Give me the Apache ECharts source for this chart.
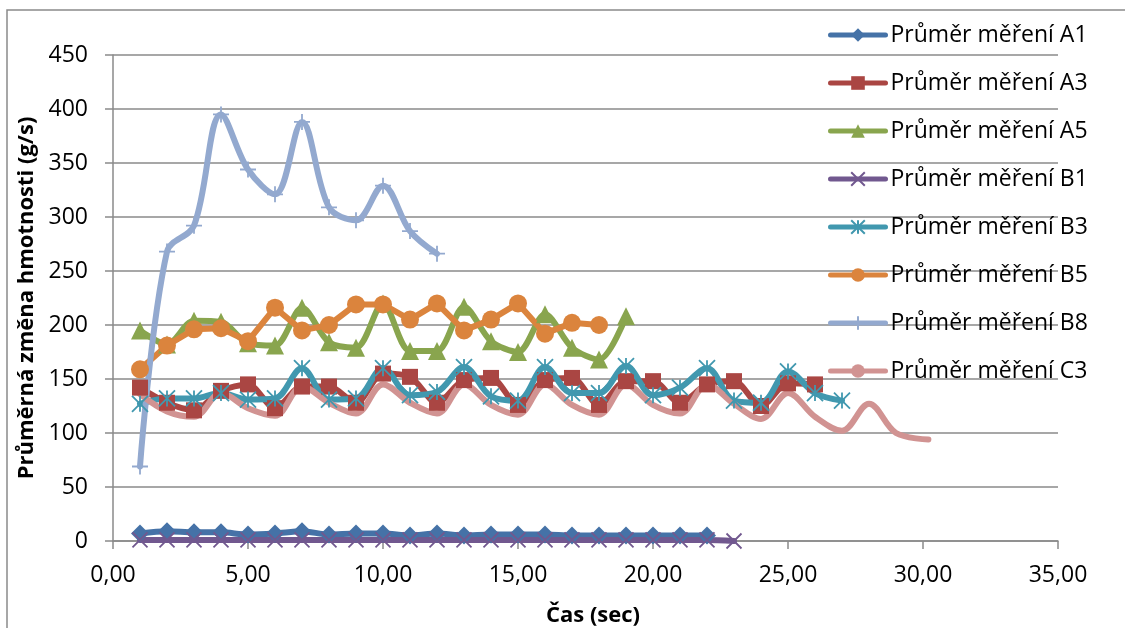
<!DOCTYPE html>
<html>
<head>
<meta charset="UTF-8">
<title>Průměrná změna hmotnosti</title>
<script type="text/javascript" src="https://cdn.jsdelivr.net/npm/echarts@6/dist/echarts.min.js"></script>
<style>
html,body{margin:0;padding:0;background:#fff;}
</style>
</head>
<body>
<div id="main" style="width:1125px;height:628px;"></div>

<script type="text/javascript">
// data (time in s, value in g/s)
var xTicks = [0, 5, 10, 15, 20, 25, 30, 35];
var yTicks = [0, 50, 100, 150, 200, 250, 300, 350, 400, 450];

var tA1 = [1,2,3,4,5,6,7,8,9,10,11,12,13,14,15,16,17,18,19,20,21,22];
var vA1 = [7,9,8,8,6,7,9,6,7,7,5,7,5,6,6,6,5,5,5,5,5,5];

var tA3 = [1,2,3,4,5,6,7,8,9,10,11,12,13,14,15,16,17,18,19,20,21,22,23,24,25,26];
var vA3 = [142,128,121,139,145,123,143,143,128,155,152,128,149,151,126,149,151,126,148,148,128,145,148,125,146,145];

var tA5 = [1,2,3,4,5,6,7,8,9,10,11,12,13,14,15,16,17,18,19];
var vA5 = [195,182,204,203,183,181,216,184,179,220,176,176,217,185,175,210,179,168,208];

var tB1 = [1,2,3,4,5,6,7,8,9,10,11,12,13,14,15,16,17,18,19,20,21,22,23];
var vB1 = [1,1,1,1,1,1,1,1,1,1,1,1,1,1,1,1,1,1,1,1,1,1,0];

var tB3 = [1,2,3,4,5,6,7,8,9,10,11,12,13,14,15,16,17,18,19,20,21,22,23,24,25,26,27];
var vB3 = [127,132,132,137,131,132,160,131,132,160,135,138,161,134,130,161,137,137,162,135,142,160,130,128,157,137,130];

var tB5 = [1,2,3,4,5,6,7,8,9,10,11,12,13,14,15,16,17,18];
var vB5 = [159,181,196,197,185,216,195,200,219,219,205,220,195,205,220,192,202,200];

var tB8 = [1,2,3,4,5,6,7,8,9,10,11,12];
var vB8 = [69,268,292,395,344,321,388,309,297,329,287,266];

var tC3 = [1,2,3,4,5,6,7,8,9,10,11,12,13,14,15,16,17,18,19,20,21,22,23,24,25,26,27,28,29,30.2];
var vC3 = [136,120,115,137,123,116,143,128,118,145,128,118,145,126,117,145,126,117,145,126,118,145,127,113,137,115,102,127,100,94];

var FONT = 'Open Sans';
var GRID = '#8a8a8a';

// marker shapes that Excel has but ECharts does not
var symX = 'path://M0,0 L10,10 M10,0 L0,10';
var symStar = 'path://M5,0 L5,10 M0,0 L10,10 M10,0 L0,10';
var symPlus = 'path://M5,0 L5,10 M0,5 L10,5';

function pairs(t, v) {
    var out = [];
    for (var i = 0; i < t.length; i++) {
        out.push([t[i], v[i]]);
    }
    return out;
}

function mk(name, t, v, color, symbol, size, smooth, stroke) {
    return {
        name: name,
        type: 'line',
        data: pairs(t, v),
        smooth: smooth,
        symbol: symbol,
        symbolSize: size,
        showAllSymbol: true,
        lineStyle: { color: color, width: 6, cap: 'round', join: 'round' },
        itemStyle: {
            color: color,
            borderColor: color,
            borderWidth: stroke ? 1.8 : 0
        },
        emphasis: { disabled: true }
    };
}

var mychart = echarts.init(document.getElementById('main'));

var option = {
    animation: false,
    backgroundColor: '#fff',
    textStyle: { fontFamily: FONT },
    graphic: [{
        type: 'rect',
        shape: { x: 7, y: 10, width: 1200, height: 700 },
        style: { fill: 'none', stroke: '#8a8a8a', lineWidth: 1.5 },
        silent: true
    }],
    grid: { left: 113, right: 67, top: 55, bottom: 87, outerBoundsMode: 'none' },
    legend: {
        orient: 'vertical',
        left: 823,
        top: 18,
        itemWidth: 55,
        itemHeight: 17,
        itemGap: 24,
        lineStyle: { width: 5, cap: 'round' },
        textStyle: { fontFamily: FONT, fontSize: 23, color: '#000', lineHeight: 24 },
        data: ['Průměr měření A1', 'Průměr měření A3', 'Průměr měření A5', 'Průměr měření B1',
               'Průměr měření B3', 'Průměr měření B5', 'Průměr měření B8', 'Průměr měření C3']
    },
    xAxis: {
        type: 'value',
        min: xTicks[0],
        max: xTicks[xTicks.length - 1],
        interval: 5,
        name: 'Čas (sec)',
        nameLocation: 'middle',
        nameGap: 64,
        nameTextStyle: { fontFamily: FONT, fontSize: 22, fontWeight: 'bold', color: '#000', padding: [0, 0, 0, 15] },
        axisLine: { onZero: false, lineStyle: { color: GRID, width: 1.5 } },
        axisTick: { show: true, length: 8, lineStyle: { color: GRID, width: 1.5 } },
        axisLabel: {
            margin: 23, fontSize: 23, color: '#000', fontFamily: FONT,
            formatter: function (v) { return v.toFixed(2).replace('.', ','); }
        },
        splitLine: { show: false }
    },
    yAxis: {
        type: 'value',
        min: yTicks[0],
        max: yTicks[yTicks.length - 1],
        interval: 50,
        name: 'Průměrná změna hmotnosti (g/s)',
        nameLocation: 'middle',
        nameGap: 68,
        nameTextStyle: { fontFamily: FONT, fontSize: 22, fontWeight: 'bold', color: '#000' },
        axisLine: { show: true, lineStyle: { color: GRID, width: 1.5 } },
        axisTick: { show: true, length: 8, lineStyle: { color: GRID, width: 1.5 } },
        axisLabel: { margin: 25, fontSize: 23, color: '#000', fontFamily: FONT },
        splitLine: { show: true, lineStyle: { color: GRID, width: 1.5 } }
    },
    series: [
        mk('Průměr měření A1', tA1, vA1, '#4572A7', 'diamond', 18, 0.3, false),
        mk('Průměr měření A3', tA3, vA3, '#AA4643', 'rect', 16, 0.3, false),
        mk('Průměr měření A5', tA5, vA5, '#89A54E', 'triangle', 18, 0.3, false),
        mk('Průměr měření B1', tB1, vB1, '#71588F', symX, 15, 0.3, true),
        mk('Průměr měření B3', tB3, vB3, '#4198AF', symStar, 16, 0.35, true),
        mk('Průměr měření B5', tB5, vB5, '#DB843D', 'circle', 18, false, false),
        mk('Průměr měření B8', tB8, vB8, '#93A9CF', symPlus, 16, 0.35, true),
        mk('Průměr měření C3', tC3, vC3, '#D19392', 'none', 0, 0.35, false)
    ]
};

mychart.setOption(option);
</script>
</body>
</html>
